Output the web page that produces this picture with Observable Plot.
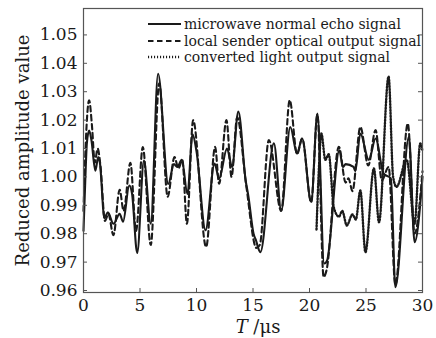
<!DOCTYPE html>
<html><head><meta charset="utf-8">
<script src="https://cdn.jsdelivr.net/npm/d3@7"></script>
<script src="https://cdn.jsdelivr.net/npm/@observablehq/plot@0.6"></script>
<style>
body{margin:0;background:#fff;}
#wrap{position:relative;width:436px;height:338px;}
.legend{position:absolute;left:148px;top:16px;font-family:"DejaVu Serif";font-size:14px;color:#1a1a1a;line-height:1;}
.row{display:flex;align-items:center;height:16.5px;white-space:nowrap;}
.row svg{margin-right:3px;flex:none;}
</style></head><body>
<div id="wrap"></div>
<script>
const xTicks = [0, 5, 10, 15, 20, 25, 30];
const yTicks = [0.96, 0.97, 0.98, 0.99, 1.00, 1.01, 1.02, 1.03, 1.04, 1.05];
const seriesNames = ["microwave normal echo signal", "local sender optical output signal", "converted light output signal"];

const echoT = [0,0.15,0.3,0.5,0.7,1.05,1.3,1.45,1.85,2.15,2.65,3.2,3.5,4.05,4.3,4.75,5.35,5.95,6.6,7.5,8.0,8.3,8.7,9.2,9.65,10.0,10.8,11.6,12.0,12.7,13.15,13.7,14.35,14.6,15.05,15.25,15.65,16.85,17.5,18.3,18.9,19.35,20.15,20.7,21.3,21.55,22.65,22.95,23.2,23.9,24.05,24.5,25.25,25.85,26.55,27.2,27.6,28.8,29.3,30];
const echoV = [0.981,0.998,1.012,1.0163,1.013,1.0022,1.007,1.005,0.9855,0.9875,0.9835,0.987,0.9842,0.997,0.994,0.9732,1.0058,0.9835,1.0363,0.9975,1.0045,1.0035,1.006,0.994,1.015,1.009,0.9812,1.0047,0.9994,1.010,1.0035,1.023,0.9988,0.993,0.980,0.9778,0.9735,1.0118,0.9882,1.0176,1.0082,1.0135,0.9912,1.0223,0.9695,0.9705,1.0094,1.0035,1.0045,1.0035,1.002,1.0153,1.006,1.0135,1.0012,0.9995,0.9612,1.0141,0.977,1.0];

const senderT = [0,0.2,0.5,0.75,1.0,1.25,1.5,1.9,2.2,2.65,3.2,3.55,4.15,4.65,5.25,5.95,6.7,7.45,8.05,8.4,8.75,9.15,9.7,10.85,11.65,12.0,12.65,13.1,13.6,14.4,15.3,15.6,16.4,17.5,18.25,18.9,19.35,20.15,20.7,21.25,21.5,22.6,23.2,23.45,23.8,24.5,25.2,25.85,26.4,27.0,27.6,28.7,29.3,30];
const senderV = [0.988,1.012,1.027,1.018,1.005,1.010,1.004,0.9845,0.987,0.9795,0.9955,0.988,1.005,0.981,1.0105,0.976,1.033,0.993,1.007,1.003,1.006,0.9835,1.020,0.9753,1.0106,0.9976,1.020,1.0,1.021,0.997,0.975,0.976,1.013,0.988,1.027,1.008,1.0135,0.991,1.022,0.9647,0.967,1.0106,0.998,0.9995,0.995,1.0176,1.004,1.0165,0.9988,1.0035,0.962,1.0188,0.980,1.002];

const convT = [20.62,20.8,21.05,21.4,21.7,22.15,22.6,22.9,23.3,23.8,24.1,24.5,24.95,25.7,26.15,27.0,27.4,27.7,28.6,29.3,29.8,30];
const convV = [0.9815,1.0,1.0153,1.006,1.008,0.9893,0.986,0.988,0.9829,0.9868,0.985,0.9952,0.9735,1.003,0.984,1.0353,1.0,0.9965,1.006,0.9835,1.0118,1.009];

const toRows = (T, V) => T.map((t, i) => ({t, v: V[i]}));
const echo = toRows(echoT, echoV);
const sender = toRows(senderT, senderV);
const conv = toRows(convT, convV);

const W = 436, H = 338, mL = 83, mR = 14, mT = 8, mB = 46;
const fw = W - mL - mR, fh = H - mT - mB;
const ink = "#1a1a1a";
const styles = [
  {dash: null, width: 2.1},
  {dash: "5.5,3.5", width: 2.1},
  {dash: "1.1,1.9", width: 2.4}
];

const chart = Plot.plot({
  width: W, height: H,
  marginLeft: mL, marginRight: mR, marginTop: mT, marginBottom: mB,
  style: {fontFamily: "DejaVu Serif", fontSize: "17px", color: ink, background: "#fff"},
  x: {domain: [0, 30]},
  y: {domain: [0.9593, 1.0593]},
  marks: [
    Plot.line(echo, {x: "t", y: "v", curve: "monotone-x", stroke: ink, strokeWidth: styles[0].width}),
    Plot.line(sender, {x: "t", y: "v", curve: "monotone-x", stroke: ink, strokeWidth: styles[1].width, strokeDasharray: styles[1].dash}),
    Plot.line(conv, {x: "t", y: "v", curve: "monotone-x", stroke: ink, strokeWidth: styles[2].width, strokeDasharray: styles[2].dash}),
    Plot.tickY(yTicks, {y: d => d, insetRight: fw - 4, stroke: "#555"}),
    Plot.tickY(yTicks, {y: d => d, insetLeft: fw - 4, stroke: "#555"}),
    Plot.tickX(xTicks, {x: d => d, insetTop: fh - 4, stroke: "#555"}),
    Plot.frame({stroke: "#555", strokeWidth: 1.2}),
    Plot.axisX({ticks: xTicks, tickSize: 0, tickPadding: 6, tickFormat: d => String(d), label: null, fontSize: 17}),
    Plot.axisY({ticks: yTicks, tickSize: 0, tickPadding: 6, tickFormat: d3.format(".2f"), label: null, fontSize: 17}),
    Plot.text(["Reduced amplitude value"], {text: d => d, frameAnchor: "left", textAnchor: "middle", lineAnchor: "middle", rotate: -90, dx: -60, fontSize: 18, fill: ink}),
    Plot.text(["T/μs"], {text: d => d, frameAnchor: "bottom", textAnchor: "middle", lineAnchor: "middle", dy: 35, dx: 5, fontSize: 18, fill: ink})
  ]
});

d3.select(chart).selectAll("text").filter(function() { return this.textContent === "T/μs"; }).each(function() {
  const el = d3.select(this);
  el.text(null);
  el.append("tspan").attr("font-style", "italic").text("T");
  el.append("tspan").text(" /μs");
});

const wrap = document.getElementById("wrap");
wrap.appendChild(chart);

const legend = document.createElement("div");
legend.className = "legend";
seriesNames.forEach((name, i) => {
  const row = document.createElement("div");
  row.className = "row";
  const s = styles[i];
  row.innerHTML = `<svg width="33" height="10"><line x1="0" x2="33" y1="5" y2="5" stroke="${ink}" stroke-width="${s.width}" ${s.dash ? `stroke-dasharray="${s.dash}"` : ""}/></svg><span>${name}</span>`;
  legend.appendChild(row);
});
wrap.appendChild(legend);
</script>
</body></html>
